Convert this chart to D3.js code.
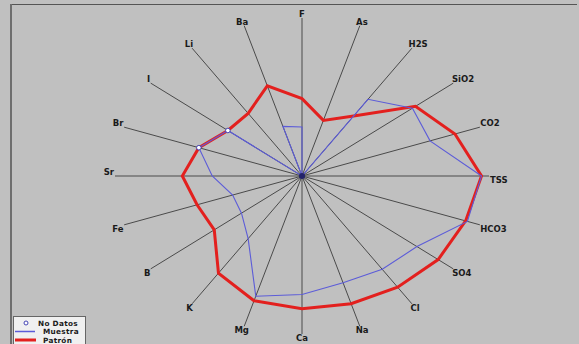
<!DOCTYPE html>
<html>
<head>
<meta charset="utf-8">
<script src="https://cdn.jsdelivr.net/npm/d3@7"></script>
<style>
  html, body { margin: 0; padding: 0; background: #c0c0c0; }
  svg { display: block; }
  text { font-family: "DejaVu Sans", Verdana, sans-serif; font-weight: bold; font-size: 8.5px; fill: #1a1a1a; }
  text.leg { font-size: 7.3px; letter-spacing: 0.3px; }
</style>
</head>
<body>
<svg id="chart" width="579" height="344"></svg>
<script>
// Radar axes (clockwise from the top)
const axes = ["F", "As", "H2S", "SiO2", "CO2", "TSS", "HCO3", "SO4", "Cl", "Na",
              "Ca", "Mg", "K", "B", "Fe", "Sr", "Br", "I", "Li", "Ba"];
// Reference pattern (Patrón), normalised 0..1
const patron = [0.49, 0.37, 0.47, 0.75, 0.86, 0.96, 0.92, 0.90, 0.87, 0.85,
                0.84, 0.83, 0.76, 0.58, 0.59, 0.64, 0.58, 0.49, 0.49, 0.60];
// Sample (Muestra), normalised 0..1; null = no data
const muestra = [0.31, 0, 0.60, 0.73, 0.72, 0.96, 0.93, 0.76, 0.73, 0.71,
                 0.75, 0.80, 0.49, 0.40, 0.39, 0.48, null, null, 0, 0.33];
// Legend entries
const legendLabels = ["No Datos", "Muestra", "Patrón"];

const svg = d3.select("#chart");
const W = 579, H = 344;
const cx = 302, cy = 176;

svg.append("rect").attr("width", W).attr("height", H).attr("fill", "#c0c0c0");
// window frame
svg.append("line").attr("x1", 11).attr("x2", 577).attr("y1", 4.5).attr("y2", 4.5)
  .attr("stroke", "#555").attr("stroke-width", 1);
svg.append("line").attr("x1", 11).attr("x2", 11).attr("y1", 4).attr("y2", H)
  .attr("stroke", "#6e6e6e").attr("stroke-width", 2);

const angle = d3.scaleLinear().domain([0, axes.length]).range([0, 2 * Math.PI]);
const rX = d3.scaleLinear().domain([0, 1]).range([0, 187]);
const rY = d3.scaleLinear().domain([0, 1]).range([0, 158]);
const pt = (i, v) => {
  const a = angle(i);
  return [cx + rX(v) * Math.sin(a), cy - rY(v) * Math.cos(a)];
};

const g = svg.append("g");

// spokes
g.selectAll("line.spoke").data(axes).join("line")
  .attr("class", "spoke")
  .attr("x1", cx).attr("y1", cy)
  .attr("x2", (d, i) => pt(i, 1)[0])
  .attr("y2", (d, i) => pt(i, 1)[1])
  .attr("stroke", "#4a4a4a").attr("stroke-width", 1);

// axis labels
const labels = g.selectAll("text.axis").data(axes).join("text")
  .attr("class", "axis")
  .attr("text-anchor", "middle")
  .text(d => d);
labels.each(function (d, i) {
  const a = angle(i);
  const [ex, ey] = pt(i, 1);
  const w = this.getComputedTextLength();
  const s = Math.sin(a);
  const upper = (i >= 15 || i < 5);
  const x = ex + s * (w / 2 + 1);
  const yc = upper ? ey - 4 : ey + 4;
  d3.select(this).attr("x", x).attr("y", yc + 3);
});

const line = d3.line().curve(d3.curveLinearClosed);

// Patrón polygon
g.append("path")
  .attr("d", line(patron.map((v, i) => pt(i, v))))
  .attr("fill", "none").attr("stroke", "#e3201e").attr("stroke-width", 3)
  .attr("stroke-linejoin", "miter");

// Muestra polygon (missing values fall back onto the pattern)
const mVals = muestra.map((v, i) => v == null ? patron[i] : v);
g.append("path")
  .attr("d", line(mVals.map((v, i) => pt(i, v))))
  .attr("fill", "none").attr("stroke", "#5c5cd8").attr("stroke-width", 1.1);

// no-data markers
g.selectAll("circle.nd").data(muestra.map((v, i) => ({ v, i })).filter(d => d.v == null))
  .join("circle").attr("class", "nd")
  .attr("cx", d => pt(d.i, patron[d.i])[0])
  .attr("cy", d => pt(d.i, patron[d.i])[1])
  .attr("r", 2.3).attr("fill", "#ffffff").attr("stroke", "#4646b4").attr("stroke-width", 1);

// hub
g.append("circle").attr("cx", cx).attr("cy", cy).attr("r", 3).attr("fill", "#22226a");

// legend
const lg = svg.append("g");
lg.append("rect").attr("x", 13.5).attr("y", 316.5).attr("width", 72).attr("height", 40)
  .attr("fill", "#f0f0f0").attr("stroke", "#666").attr("stroke-width", 1);
lg.append("circle").attr("cx", 26).attr("cy", 323).attr("r", 2)
  .attr("fill", "#fff").attr("stroke", "#4646b4").attr("stroke-width", 1);
lg.append("line").attr("x1", 15).attr("x2", 35).attr("y1", 331.5).attr("y2", 331.5)
  .attr("stroke", "#5c5cd8").attr("stroke-width", 1.5);
lg.append("line").attr("x1", 15).attr("x2", 36).attr("y1", 340).attr("y2", 340)
  .attr("stroke", "#e3201e").attr("stroke-width", 3);
lg.selectAll("text").data(legendLabels).join("text")
  .attr("class", "leg")
  .attr("x", (d, i) => i === 0 ? 38 : 43)
  .attr("y", (d, i) => 325.5 + i * 8.5)
  .text(d => d);
</script>
</body>
</html>
